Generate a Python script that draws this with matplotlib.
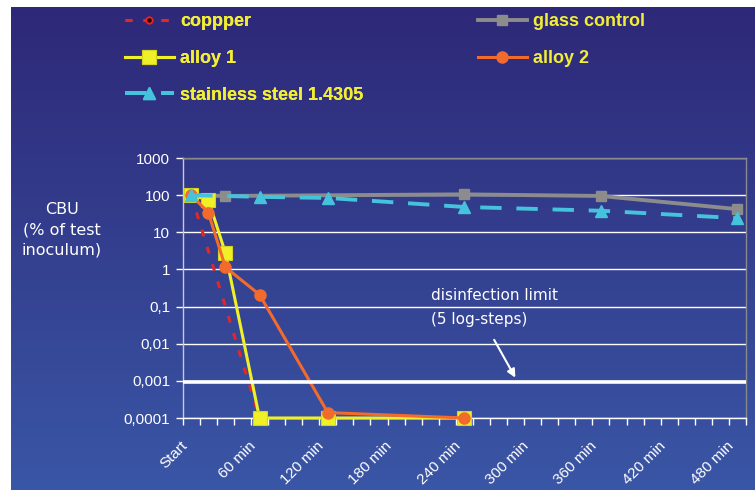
import matplotlib
matplotlib.use('Agg')
import matplotlib.pyplot as plt
import matplotlib.transforms as mtransforms
import numpy as np

# sampling times in minutes, values as CBU in % of test inoculum
copper_t = [0, 60]
copper_v = [100, 0.0001]
glass_t = [0, 30, 240, 360, 480]
glass_v = [100, 95, 105, 95, 42]
alloy1_t = [0, 15, 30, 60, 120, 240]
alloy1_v = [100, 75, 2.8, 0.0001, 0.0001, 0.0001]
alloy2_t = [0, 15, 30, 60, 120, 240]
alloy2_v = [100, 34, 1.15, 0.21, 0.00014, 0.0001]
steel_t = [0, 60, 120, 240, 360, 480]
steel_v = [100, 90, 84, 48, 38, 24]

limit = 0.00093
xlabels = ['Start', '60 min', '120 min', '180 min', '240 min',
           '300 min', '360 min', '420 min', '480 min']
xlabel_pos = [0, 60, 120, 180, 240, 300, 360, 420, 480]
ytick_vals = [0.0001, 0.001, 0.01, 0.1, 1, 10, 100, 1000]
ytick_labels = ['0,0001', '0,001', '0,01', '0,1', '1', '10', '100', '1000']

plt.rcParams['font.family'] = ['Liberation Sans', 'DejaVu Sans']

W, H = 755, 490
fig = plt.figure(figsize=(W / 100, H / 100), dpi=100, facecolor='white')

# gradient background, white strip on the left and top
bg = fig.add_axes([11 / W, 0, 1 - 11 / W, 1 - 7 / H], zorder=-10)
top = np.array([46, 40, 120]) / 255
bot = np.array([58, 86, 166]) / 255
g = np.linspace(0, 1, 256)[:, None]
grad = top[None, :] * (1 - g) + bot[None, :] * g
bg.imshow(grad[:, None, :], aspect='auto', extent=[0, 1, 0, 1])
bg.set_axis_off()

ax = fig.add_axes([182.7 / W, 1 - 418 / H, (746 - 182.7) / W, (418 - 158) / H])
ax.set_facecolor('none')
ax.set_yscale('log')
ax.set_ylim(1e-4, 1e3)
ax.set_xlim(-7.5, 487.5)

ax.plot(copper_t, copper_v, color='#e02828', lw=2.2, dashes=(2.3, 3.6),
        marker='o', ms=4.5, mfc='#300008', mec='#e02828', mew=1.2,
        label='coppper', zorder=3, clip_on=False)
ax.plot(glass_t, glass_v, color='#8c8c8c', lw=2.8, marker='s', ms=7.5,
        label='glass control', zorder=3.1, clip_on=False)
ax.plot(alloy1_t, alloy1_v, color='#f0f028', lw=2.2, marker='s', ms=10.5,
        mec='#d4d420', mew=0.8, label='alloy 1', zorder=3.2, clip_on=False)
ax.plot(alloy2_t, alloy2_v, color='#f26a2c', lw=2.2, marker='o', ms=8,
        label='alloy 2', zorder=3.3, clip_on=False)
ax.plot(steel_t, steel_v, color='#45c2dc', lw=2.8, dashes=(5.5, 3.8),
        marker='^', ms=9, label='stainless steel 1.4305', zorder=3.4,
        clip_on=False)

ax.axhline(limit, color='white', lw=2.6, zorder=4)

# axes styling
ax.set_yticks(ytick_vals)
ax.set_yticklabels(ytick_labels)
ax.yaxis.set_minor_locator(matplotlib.ticker.NullLocator())
ax.tick_params(axis='y', colors='white', length=5, width=1, labelsize=11, pad=4)
ax.yaxis.grid(True, color='white', lw=1)
ax.set_axisbelow(True)

ax.set_xticks(xlabel_pos)
ax.set_xticks(np.arange(-7.5, 490, 15), minor=True)
ax.tick_params(axis='x', which='major', length=0, pad=15, labelsize=11,
               labelcolor='white')
ax.tick_params(axis='x', which='minor', length=5, width=1, color='white')
ax.set_xticklabels(xlabels, rotation=45, ha='right', rotation_mode='anchor')
shift = mtransforms.ScaledTranslation(-11 / 100, 0, fig.dpi_scale_trans)
for lab in ax.get_xticklabels():
    lab.set_transform(lab.get_transform() + shift)

ax.spines['top'].set_color('#8a8a8a')
ax.spines['right'].set_color('#8a8a8a')
ax.spines['left'].set_color('#c8c8d8')
ax.spines['bottom'].set_color('white')
for s in ax.spines.values():
    s.set_linewidth(1)

# annotation for the disinfection limit
ax.text(211, 0.2, 'disinfection limit', color='white', fontsize=11,
        family='DejaVu Sans', ha='left', va='center')
ax.text(211, 0.045, '(5 log-steps)', color='white', fontsize=11,
        family='DejaVu Sans', ha='left', va='center')
ax.annotate('', xy=(286, 0.00105), xytext=(265, 0.0148),
            arrowprops=dict(arrowstyle='-|>', color='white', lw=1.5,
                            mutation_scale=12), zorder=5)

fig.text(62 / W, 1 - 230 / H, 'CBU\n(% of test\ninoculum)', color='white',
         fontsize=11.5, family='DejaVu Sans', ha='center', va='center',
         linespacing=1.45)

# legend in two columns placed by hand
h = {l.get_label(): l for l in ax.get_lines()}
leg_kw = dict(frameon=False, labelcolor='#f2ee36',
              handlelength=2.7, handletextpad=0.35, labelspacing=1.1,
              borderpad=0, borderaxespad=0, prop={'weight': 'bold', 'size': 13},
              loc='upper left')
leg1 = fig.legend([h['coppper'], h['alloy 1'], h['stainless steel 1.4305']],
                  ['coppper', 'alloy 1', 'stainless steel 1.4305'],
                  bbox_to_anchor=(125 / W, 1 - 13 / H), **leg_kw)
leg2 = fig.legend([h['glass control'], h['alloy 2']],
                  ['glass control', 'alloy 2'],
                  bbox_to_anchor=(478 / W, 1 - 13 / H), **leg_kw)
fig.add_artist(leg1)

fig.savefig('out.png', dpi=100)
